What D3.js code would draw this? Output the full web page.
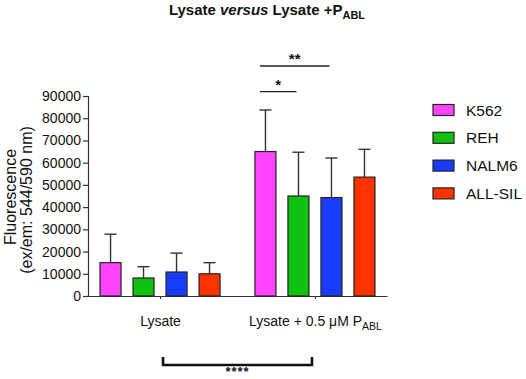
<!DOCTYPE html>
<html>
<head>
<meta charset="utf-8">
<script src="https://cdn.jsdelivr.net/npm/d3@7/dist/d3.min.js"></script>
<style>
  html, body { margin: 0; padding: 0; background: #fff; }
  svg { display: block; font-family: "Liberation Sans", Arial, Helvetica, sans-serif; }
</style>
</head>
<body>
<svg id="chart" width="526" height="379"></svg>
<script>
// ---- data ----
const groups = ["Lysate", "Lysate + 0.5 μM P"];
const series = ["K562", "REH", "NALM6", "ALL-SIL"];
const colors = ["#ff44ff", "#11c111", "#1a3cff", "#ff3300"];
const meansLysate = [15000, 8100, 10800, 10000];
const errLysate   = [27800, 13200, 19300, 15000];
const meansPabl   = [65000, 45000, 44300, 53500];
const errPabl     = [83700, 64700, 62100, 66000];
const yTicks = [0, 10000, 20000, 30000, 40000, 50000, 60000, 70000, 80000, 90000];
// significance brackets (within second group): from K562 to target, at y (data units)
const sigTargets = ["REH", "NALM6"];
const sigLabels = ["*", "**"];
const sigLevels = [92000, 103500];

const svg = d3.select("#chart");

const y = d3.scaleLinear().domain([0, 90000]).range([296, 96]);
const x0 = d3.scalePoint().domain(groups).range([88, 387]).padding(0.465);
const x1 = d3.scaleBand().domain(series).range([-60, 60]).paddingInner(12 / 33).paddingOuter(0);
const color = d3.scaleOrdinal().domain(series).range(colors);

const rows = [];
groups.forEach((g, gi) => {
  series.forEach((s, si) => {
    rows.push({
      g, s,
      mean: gi === 0 ? meansLysate[si] : meansPabl[si],
      err: gi === 0 ? errLysate[si] : errPabl[si]
    });
  });
});

// Y axis
const yAxis = svg.append("g")
  .attr("transform", "translate(88,0)")
  .call(d3.axisLeft(y).tickValues(yTicks).tickFormat(d3.format("d")).tickSize(5).tickPadding(2));
yAxis.select(".domain").attr("stroke", "#333").attr("stroke-width", 1.2);
yAxis.selectAll(".tick line").attr("stroke", "#333").attr("stroke-width", 1.2);
yAxis.selectAll(".tick text").attr("font-size", 14).attr("fill", "#111")
  .attr("font-family", "Liberation Sans, Arial, sans-serif");

// X axis
const xAxis = svg.append("g")
  .attr("transform", "translate(0,296)")
  .call(d3.axisBottom(x0).tickSize(3).tickPadding(17).tickSizeOuter(0));
xAxis.select(".domain").attr("stroke", "#333").attr("stroke-width", 1.2);
xAxis.selectAll(".tick line").attr("stroke", "#333").attr("stroke-width", 1);
xAxis.selectAll(".tick text")
  .attr("font-size", 14).attr("fill", "#111")
  .attr("font-family", "Liberation Sans, Arial, sans-serif")
  .each(function(d, i) {
    const t = d3.select(this);
    t.text(null);
    t.append("tspan").text(d);
    if (i === 1) {
      t.append("tspan").attr("font-size", 10.5).attr("dy", 4).text("ABL");
    }
  });

// Error bars
const eb = svg.append("g").selectAll("g").data(rows).join("g");
eb.append("line")
  .attr("x1", d => x0(d.g) + x1(d.s) + x1.bandwidth() / 2)
  .attr("x2", d => x0(d.g) + x1(d.s) + x1.bandwidth() / 2)
  .attr("y1", d => y(d.mean))
  .attr("y2", d => y(d.err))
  .attr("stroke", "#333").attr("stroke-width", 1.4);
eb.append("line")
  .attr("x1", d => x0(d.g) + x1(d.s) + x1.bandwidth() / 2 - 6)
  .attr("x2", d => x0(d.g) + x1(d.s) + x1.bandwidth() / 2 + 6)
  .attr("y1", d => y(d.err))
  .attr("y2", d => y(d.err))
  .attr("stroke", "#333").attr("stroke-width", 1.4);

// Bars
svg.append("g").selectAll("rect").data(rows).join("rect")
  .attr("x", d => x0(d.g) + x1(d.s))
  .attr("y", d => y(d.mean))
  .attr("width", x1.bandwidth())
  .attr("height", d => y(0) - y(d.mean))
  .attr("fill", d => color(d.s))
  .attr("stroke", "#222").attr("stroke-width", 1.2);

// Significance lines within second group
const g2 = groups[1];
sigTargets.forEach((t, i) => {
  const xs = x0(g2) + x1("K562") + 5;
  const xe = x0(g2) + x1(t) + x1.bandwidth() / 2 - 2;
  const yy = y(sigLevels[i]);
  svg.append("line").attr("x1", xs).attr("x2", xe).attr("y1", yy).attr("y2", yy)
    .attr("stroke", "#222").attr("stroke-width", 1.3);
  svg.append("text").attr("x", (xs + xe) / 2).attr("y", yy - 2)
    .attr("text-anchor", "middle").attr("font-size", 15).attr("font-weight", "bold")
    .attr("fill", "#111").text(sigLabels[i]);
});

// Bottom bracket between groups
const bx1 = x0(groups[0]) + 3, bx2 = x0(groups[1]) - 3;
svg.append("path")
  .attr("d", `M${bx1},357 V365 H${bx2} V357`)
  .attr("fill", "none").attr("stroke", "#111").attr("stroke-width", 2.6);
svg.append("text").attr("x", (bx1 + bx2) / 2).attr("y", 376)
  .attr("text-anchor", "middle").attr("font-size", 13).attr("font-weight", "bold")
  .attr("letter-spacing", 1)
  .attr("fill", "#111").text("****");

// Y label
const yl = svg.append("g").attr("transform", "translate(0,200) rotate(-90)");
yl.append("text").attr("x", 3).attr("y", 16).attr("text-anchor", "middle")
  .attr("font-size", 16).attr("fill", "#111").text("Fluorescence");
yl.append("text").attr("x", 0).attr("y", 32).attr("text-anchor", "middle")
  .attr("font-size", 16).attr("fill", "#111").text("(ex/em: 544/590 nm)");

// Title
const title = svg.append("text").attr("x", 267).attr("y", 15).attr("text-anchor", "middle")
  .attr("font-size", 15).attr("font-weight", "bold").attr("fill", "#111");
title.append("tspan").text("Lysate ");
title.append("tspan").attr("font-style", "italic").text("versus");
title.append("tspan").text(" Lysate +P");
title.append("tspan").attr("font-size", 11).attr("dy", 4).text("ABL");

// Legend
const leg = svg.append("g").selectAll("g").data(series).join("g")
  .attr("transform", (d, i) => `translate(433,${110 + i * 27.8})`);
leg.append("rect").attr("x", 0).attr("y", -5.5).attr("width", 21).attr("height", 11)
  .attr("fill", d => color(d)).attr("stroke", "#222").attr("stroke-width", 1.2);
leg.append("text").attr("x", 33).attr("y", 5.5).attr("font-size", 15.5).attr("fill", "#111").text(d => d);
</script>
</body>
</html>
